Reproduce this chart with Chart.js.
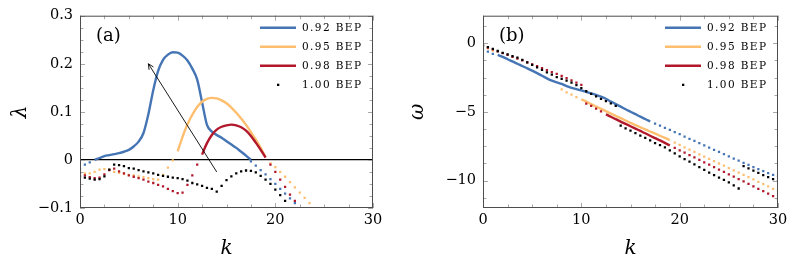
<!DOCTYPE html>
<html>
<head>
<meta charset="utf-8">
<script src="https://cdn.jsdelivr.net/npm/chart.js@4.4.0/dist/chart.umd.min.js"></script>
<style>
  body { margin: 0; background: #fff; }
  .wrap { display: flex; width: 794px; height: 264px; }
  canvas { display: block; }
</style>
</head>
<body>
<div class="wrap">
  <canvas id="chartA" width="397" height="264"></canvas>
  <canvas id="chartB" width="397" height="264"></canvas>
</div>
<script>
// series names / colours (legend order)
const seriesLabels = ['0.92 BEP', '0.95 BEP', '0.98 BEP', '1.00 BEP'];
const seriesColors = ['#4575b4', '#fdbf6f', '#b2182b', '#000000'];
const panelLabels = ['(a)', '(b)'];

// tick labels
const xTicks = [0, 10, 20, 30];
const yTicksA = [-0.1, 0, 0.1, 0.2, 0.3];
const yTicksB = [-10, -5, 0];

// k is sampled every 0.5, each segment lists values from its first k
const kStep = 0.5;

// panel (a): growth rate lambda
const aBlueDots1 = [-0.018, -0.010, -0.005];
const aBlueLine = [0.000, 0.004, 0.008, 0.010, 0.012, 0.014, 0.017, 0.021, 0.028, 0.038,
  0.056, 0.095, 0.145, 0.185, 0.208, 0.219, 0.224, 0.223, 0.217, 0.207,
  0.190, 0.167, 0.120, 0.073, 0.059, 0.052, 0.046, 0.039, 0.032, 0.025,
  0.017, 0.009, 0.000];
const aBlueDots2 = [-0.003, -0.012, -0.021, -0.030, -0.040, -0.050, -0.060, -0.070, -0.080, -0.090];

const aOrangeDots1 = [-0.025, -0.028, -0.028, -0.025, -0.020, -0.019, -0.020, -0.025, -0.027, -0.029,
  -0.031, -0.032, -0.034, -0.036, -0.038, -0.040, -0.041, -0.031, -0.016, -0.001];
const aOrangeLine = [0.018, 0.048, 0.074, 0.094, 0.110, 0.121, 0.127, 0.129, 0.128, 0.124,
  0.118, 0.109, 0.098, 0.086, 0.073, 0.058, 0.042, 0.025, 0.006];
const aOrangeDots2 = [-0.007, -0.015, -0.025, -0.035, -0.046, -0.057, -0.068, -0.079, -0.090];

const aRedDots1 = [-0.027, -0.032, -0.036, -0.038, -0.037, -0.030, -0.021, -0.018, -0.024, -0.028,
  -0.032, -0.035, -0.038, -0.041, -0.045, -0.048, -0.052, -0.055, -0.060, -0.065,
  -0.069, -0.068, -0.052, -0.032, -0.010];
const aRedLine = [0.011, 0.035, 0.052, 0.063, 0.069, 0.072, 0.0735, 0.072, 0.068, 0.061,
  0.050, 0.036, 0.021, 0.005];
const aRedDots2 = [-0.010, -0.025, -0.041, -0.056, -0.072, -0.085];

const aBlackDots = [-0.034, -0.037, -0.039, -0.041, -0.040, -0.034, -0.020, -0.010, -0.011, -0.013,
  -0.017, -0.018, -0.021, -0.024, -0.026, -0.028, -0.031, -0.033, -0.035, -0.037,
  -0.038, -0.040, -0.043, -0.048, -0.051, -0.054, -0.058, -0.060, -0.066, -0.054,
  -0.042, -0.034, -0.028, -0.024, -0.022, -0.023, -0.026, -0.033, -0.041, -0.050,
  -0.062, -0.073, -0.085];

// panel (b): frequency omega
const bBlueDots1 = [-0.45, -0.62, -0.78];
const bBlueLine = [-0.85, -1.00, -1.17, -1.33, -1.50, -1.66, -1.83, -2.00, -2.18, -2.37,
  -2.56, -2.73, -2.86, -2.97, -3.12, -3.25, -3.34, -3.44, -3.55, -3.66,
  -3.77, -3.89, -4.05, -4.25, -4.44, -4.62, -4.81, -4.99, -5.17, -5.35,
  -5.52, -5.70];
const bBlueDots2 = [-5.85, -6.00, -6.16, -6.31, -6.47, -6.63, -6.80, -6.96, -7.12, -7.28,
  -7.44, -7.60, -7.76, -7.92, -8.08, -8.24, -8.40, -8.55, -8.71, -8.86,
  -9.02, -9.17, -9.32, -9.46, -9.59, -9.72];

const bOrangeDots1 = [-0.25, -0.38, -0.55];
const bOrangeDots2 = [-3.36, -3.58, -3.74, -3.92];
const bOrangeLine = [-4.08, -4.26, -4.44, -4.61, -4.78, -4.95, -5.12, -5.29, -5.46, -5.63,
  -5.80, -5.96, -6.12, -6.28, -6.43, -6.58, -6.74, -6.90, -7.05];
const bOrangeDots3 = [-7.24, -7.41, -7.58, -7.75, -7.92, -8.09, -8.26, -8.42, -8.59, -8.76,
  -8.92, -9.09, -9.26, -9.42, -9.59, -9.76, -9.92, -10.09, -10.26, -10.43,
  -10.60, -10.76];

const bRedDots1 = [-0.18, -0.32, -0.46, -0.60, -0.73, -0.86, -0.99, -1.12, -1.26, -1.40,
  -1.54, -1.68, -1.82, -1.96, -2.10, -2.24, -2.39, -2.55, -2.71, -2.87, -3.04];
const bRedDots2 = [-4.40, -4.57, -4.76, -4.97];
const bRedLine = [-5.18, -5.36, -5.53, -5.71, -5.88, -6.05, -6.22, -6.39, -6.56, -6.74,
  -6.91, -7.08, -7.26, -7.45];
const bRedDots3 = [-7.62, -7.80, -7.97, -8.15, -8.32, -8.50, -8.67, -8.85, -9.02, -9.20,
  -9.37, -9.55, -9.72, -9.90, -10.07, -10.25, -10.42, -10.60, -10.78, -10.96,
  -11.14, -11.33];

const bBlackDots1 = [-0.15, -0.28, -0.42, -0.57, -0.70, -0.82, -0.95, -1.06, -1.22, -1.40,
  -1.58, -1.76, -1.94, -2.12, -2.29, -2.47, -2.60, -2.72, -2.88, -3.05,
  -3.28, -3.50, -3.70, -3.88, -4.06, -4.22, -4.38, -4.56];
const bBlackDots2 = [-6.01, -6.20, -6.37, -6.55, -6.73, -6.90, -7.08, -7.27, -7.43, -7.58,
  -7.80, -8.02, -8.24, -8.45, -8.62, -8.82, -9.02, -9.22, -9.42, -9.60,
  -9.78, -9.95, -10.13, -10.35, -10.58];
const bBlackDots3 = [-8.95, -9.12, -9.28, -9.45, -9.60, -9.75, -9.90, -10.05];

// arrow in panel (a), [k, lambda]
const arrowFrom = [14, -0.025];
const arrowTo = [7, 0.2];

const serif = 'DejaVu Serif';

function seg(k0, vals) {
  return vals.map((v, i) => ({ x: k0 + i * kStep, y: v }));
}

function lineSet(color, data, order) {
  return { data, borderColor: color, borderWidth: 2.4, pointRadius: 0,
    cubicInterpolationMode: 'monotone', fill: false, order };
}

function dotSet(color, data, order) {
  return { data, showLine: false, pointStyle: 'rect', pointRadius: 1.6,
    pointBorderWidth: 0, pointBackgroundColor: color, borderColor: color, order };
}

function fmt(v) {
  return v < 0 ? '\u2212' + Math.abs(v) : String(v);
}

// box around the plot with ticks pointing inwards on all four sides
const frameTicks = {
  id: 'frameTicks',
  afterDatasetsDraw(chart, args, opts) {
    const { ctx, chartArea: a } = chart;
    const xs = chart.scales.x, ys = chart.scales.y;
    ctx.save();
    ctx.lineWidth = 1;
    ctx.strokeStyle = '#a8a8a8';
    ctx.beginPath();
    const vMarks = (vals, len) => vals.forEach(v => {
      const px = Math.round(xs.getPixelForValue(v)) + 0.5;
      ctx.moveTo(px, a.bottom); ctx.lineTo(px, a.bottom - len);
      ctx.moveTo(px, a.top); ctx.lineTo(px, a.top + len);
    });
    const hMarks = (vals, len) => vals.forEach(v => {
      const py = Math.round(ys.getPixelForValue(v)) + 0.5;
      ctx.moveTo(a.left, py); ctx.lineTo(a.left + len, py);
      ctx.moveTo(a.right, py); ctx.lineTo(a.right - len, py);
    });
    const steps = (scale, step) => {
      const out = [];
      for (let i = Math.ceil(scale.min / step - 1e-6); i * step <= scale.max + 1e-9; i++) out.push(i * step);
      return out;
    };
    vMarks(steps(xs, opts.xMinor), 3.5);
    hMarks(steps(ys, opts.yMinor), 3.5);
    vMarks(xTicks, 5);
    hMarks(opts.yMajor, 5);
    ctx.stroke();
    ctx.strokeStyle = '#4d4d4d';
    ctx.strokeRect(a.left + 0.5, a.top + 0.5, a.width - 1, a.height - 1);
    ctx.restore();
  }
};

// legend drawn inside the plot, top right, plus the panel tag
const innerLegend = {
  id: 'innerLegend',
  afterDraw(chart, args, opts) {
    const { ctx, chartArea: a } = chart;
    ctx.save();
    ctx.font = '10.5px "' + serif + '"';
    ctx.letterSpacing = '1.4px';
    ctx.textBaseline = 'middle';
    ctx.textAlign = 'left';
    seriesLabels.forEach((label, i) => {
      const y = a.top + 12 + i * 19;
      if (i < 3) {
        ctx.strokeStyle = seriesColors[i];
        ctx.lineWidth = 2.4;
        ctx.beginPath();
        ctx.moveTo(a.right - 113, y);
        ctx.lineTo(a.right - 77, y);
        ctx.stroke();
      } else {
        ctx.fillStyle = seriesColors[i];
        ctx.fillRect(a.right - 96, y - 1, 2.3, 2.3);
      }
      ctx.fillStyle = '#000';
      ctx.fillText(label, a.right - 71, y + 1);
    });
    ctx.letterSpacing = '0px';
    ctx.font = '18px "' + serif + '"';
    ctx.fillText(opts.tag, a.left + 16, a.top + 21);
    ctx.restore();
  }
};

const arrowPlugin = {
  id: 'arrowPlugin',
  afterDatasetsDraw(chart, args, opts) {
    if (!opts.from) return;
    const { ctx } = chart;
    const xs = chart.scales.x, ys = chart.scales.y;
    const x0 = xs.getPixelForValue(opts.from[0]), y0 = ys.getPixelForValue(opts.from[1]);
    const x1 = xs.getPixelForValue(opts.to[0]), y1 = ys.getPixelForValue(opts.to[1]);
    const ang = Math.atan2(y1 - y0, x1 - x0);
    ctx.save();
    ctx.strokeStyle = '#000';
    ctx.lineWidth = 0.9;
    ctx.beginPath();
    ctx.moveTo(x0, y0); ctx.lineTo(x1, y1);
    ctx.moveTo(x1 - 6 * Math.cos(ang - 0.45), y1 - 6 * Math.sin(ang - 0.45));
    ctx.lineTo(x1, y1);
    ctx.lineTo(x1 - 6 * Math.cos(ang + 0.45), y1 - 6 * Math.sin(ang + 0.45));
    ctx.stroke();
    ctx.restore();
  }
};

function makeChart(id, datasets, o) {
  return new Chart(document.getElementById(id), {
    type: 'line',
    data: { datasets },
    options: {
      responsive: false,
      animation: false,
      devicePixelRatio: 1,
      layout: { padding: { top: 13, right: o.padRight, left: 0, bottom: 0 } },
      plugins: {
        legend: { display: false },
        tooltip: { enabled: false },
        frameTicks: { xMinor: 2.5, yMinor: o.yMinor, yMajor: o.yTicks },
        innerLegend: { tag: o.tag },
        arrowPlugin: o.arrow || {}
      },
      scales: {
        x: {
          type: 'linear', min: 0, max: 30,
          afterBuildTicks: s => { s.ticks = xTicks.map(v => ({ value: v })); },
          afterFit: s => { s.height = 56; },
          grid: { display: false, drawTicks: false },
          border: { display: false },
          ticks: { padding: 4, color: '#000', font: { family: serif, size: 14.5 }, callback: fmt },
          title: { display: true, text: 'k', color: '#000', padding: { top: 0, bottom: 3 },
            font: { family: serif, size: 20, style: 'italic' } }
        },
        y: {
          type: 'linear', min: o.yMin, max: o.yMax,
          afterBuildTicks: s => { s.ticks = o.yTicks.map(v => ({ value: v })); },
          afterFit: s => { s.width = o.yWidth; },
          grid: { display: o.zeroLine, drawTicks: false,
            color: c => (c.tick && c.tick.value === 0 ? '#000' : 'rgba(0,0,0,0)'), lineWidth: 1.2 },
          border: { display: false },
          ticks: { padding: 7, color: '#000', font: { family: serif, size: 14.5 }, callback: fmt },
          title: { display: true, text: o.yTitle, color: '#000', padding: { top: 9, bottom: 0 },
            font: { family: serif, size: 20, style: 'italic' } }
        }
      }
    },
    plugins: [frameTicks, arrowPlugin, innerLegend]
  });
}

const c = seriesColors;

const datasetsA = [
  dotSet(c[3], seg(0, aBlackDots), 0),
  dotSet(c[2], [...seg(0, aRedDots1), ...seg(19.5, aRedDots2)], 1),
  lineSet(c[2], seg(12.5, aRedLine), 1),
  dotSet(c[1], [...seg(0, aOrangeDots1), ...seg(19.5, aOrangeDots2)], 2),
  lineSet(c[1], seg(10, aOrangeLine), 2),
  dotSet(c[0], [...seg(0, aBlueDots1), ...seg(17.5, aBlueDots2)], 3),
  lineSet(c[0], seg(1.5, aBlueLine), 3)
];

const datasetsB = [
  dotSet(c[3], [...seg(0, bBlackDots1), ...seg(14, bBlackDots2), ...seg(26.5, bBlackDots3)], 0),
  dotSet(c[2], [...seg(0, bRedDots1), ...seg(10.5, bRedDots2), ...seg(19.5, bRedDots3)], 1),
  lineSet(c[2], seg(12.5, bRedLine), 1),
  dotSet(c[1], [...seg(0, bOrangeDots1), ...seg(8, bOrangeDots2), ...seg(19.5, bOrangeDots3)], 2),
  lineSet(c[1], seg(10, bOrangeLine), 2),
  dotSet(c[0], [...seg(0, bBlueDots1), ...seg(17.5, bBlueDots2)], 3),
  lineSet(c[0], seg(1.5, bBlueLine), 3)
];

makeChart('chartA', datasetsA, {
  tag: panelLabels[0], yTitle: '\u03bb', yMin: -0.1, yMax: 0.3, yTicks: yTicksA,
  yMinor: 0.025, yWidth: 80, padRight: 24, zeroLine: true,
  arrow: { from: arrowFrom, to: arrowTo }
});

makeChart('chartB', datasetsB, {
  tag: panelLabels[1], yTitle: '\u03c9', yMin: -12, yMax: 2, yTicks: yTicksB,
  yMinor: 1.25, yWidth: 86, padRight: 16, zeroLine: false
});
</script>
</body>
</html>
